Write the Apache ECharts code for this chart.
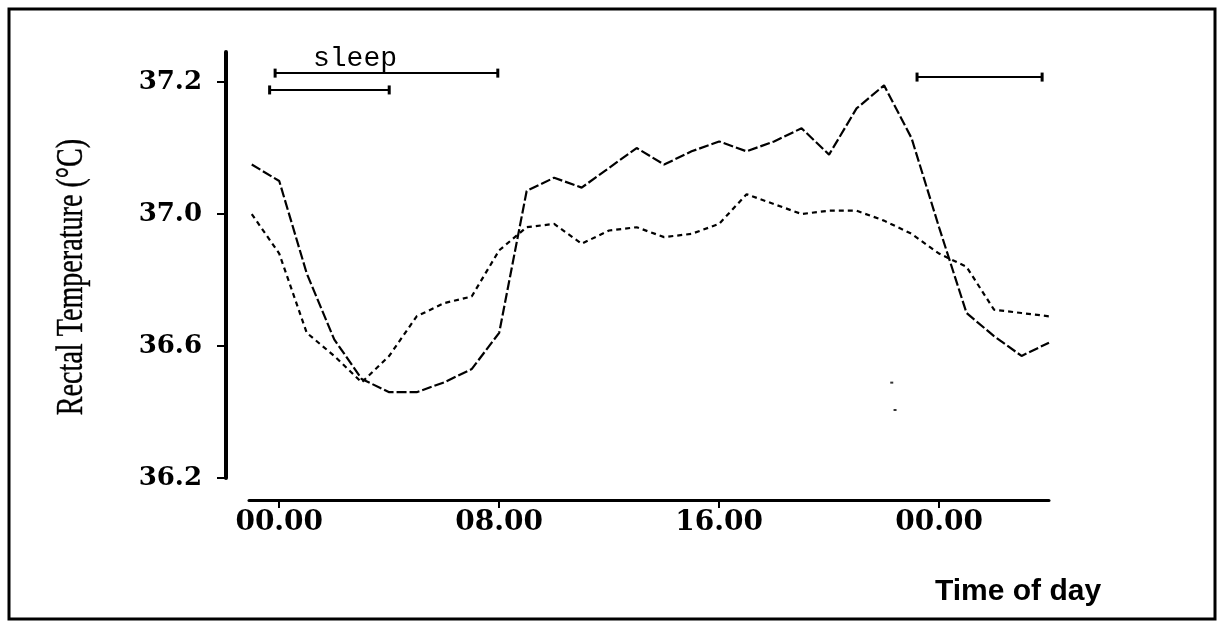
<!DOCTYPE html>
<html>
<head>
<meta charset="utf-8">
<script src="https://cdn.jsdelivr.net/npm/echarts@6/dist/echarts.min.js"></script>
<style>
html,body{margin:0;padding:0;background:#fff;}
#chart{width:1224px;height:628px;}
</style>
</head>
<body>
<div id="chart"></div>
<script>
// Time of day, hours from midnight (-1 = 23:00 previous day)
var hours = [-1,0,1,2,3,4,5,6,7,8,9,10,11,12,13,14,15,16,17,18,19,20,21,22,23,24,25,26,27,28];
// Upper (daytime) curve, long dashes
var tempA = [37.15,37.10,36.82,36.62,36.50,36.46,36.46,36.49,36.53,36.64,37.07,37.11,37.08,37.14,37.20,37.15,37.19,37.22,37.19,37.22,37.26,37.18,37.32,37.39,37.23,36.96,36.70,36.63,36.57,36.61];
// Lower (daytime) curve, short dashes
var tempB = [37.00,36.88,36.64,36.57,36.49,36.57,36.69,36.73,36.75,36.89,36.96,36.97,36.91,36.95,36.96,36.93,36.94,36.97,37.06,37.03,37.00,37.01,37.01,36.98,36.94,36.88,36.84,36.71,36.70,36.69];
// Axis ticks
var xTickValues = [0, 8, 16, 24];
var xTickLabels = ['00.00', '08.00', '16.00', '00.00'];
var yTickValues = [36.2, 36.6, 37.0, 37.4];
var yTickLabels = ['36.2', '36.6', '37.0', '37.2'];
// Sleep period bars [start hour, end hour, level]
var sleepUpper = [[-0.15, 37.427], [7.95, 37.427]];
var sleepLower = [[-0.35, 37.376], [4.0, 37.376]];
var sleepRight = [[23.2, 37.415], [27.75, 37.415]];
// Stray marks in the figure
var strayMarks = [[22.28, 36.489], [22.40, 36.406]];

function pairs(xs, ys) { return xs.map(function (x, i) { return [x, ys[i]]; }); }

var chart = echarts.init(document.getElementById('chart'), null, {renderer: 'canvas'});

var barStyle = {
  type: 'line', silent: true, symbol: 'rect', symbolSize: [3, 9],
  lineStyle: {color: '#000', width: 2}, itemStyle: {color: '#000'},
  animation: false, z: 3
};

chart.setOption({
  backgroundColor: '#fff',
  animation: false,
  grid: {left: 249, right: 175, top: 52, bottom: 150, containLabel: false},
  xAxis: {
    type: 'value', min: -1.1, max: 28, offset: 22,
    axisLine: {show: true, onZero: false, lineStyle: {color: '#000', width: 3}},
    axisTick: {show: true, customValues: xTickValues, length: 8, lineStyle: {color: '#000', width: 2}},
    axisLabel: {
      customValues: xTickValues, margin: 9,
      formatter: function (v) { var i = xTickValues.indexOf(v); return i >= 0 ? xTickLabels[i] : ''; },
      color: '#000', fontFamily: 'DejaVu Serif', fontWeight: 'bold', fontSize: 28
    },
    splitLine: {show: false}
  },
  yAxis: {
    type: 'value', min: 36.2, max: 37.491, offset: 23,
    axisLine: {show: true, onZero: false, lineStyle: {color: '#000', width: 4}},
    axisTick: {show: true, customValues: yTickValues, length: 9, lineStyle: {color: '#000', width: 2}},
    axisLabel: {
      customValues: yTickValues, margin: 24,
      formatter: function (v) {
        for (var i = 0; i < yTickValues.length; i++) { if (Math.abs(yTickValues[i] - v) < 1e-6) return yTickLabels[i]; }
        return '';
      },
      color: '#000', fontFamily: 'DejaVu Serif', fontWeight: 'bold', fontSize: 26
    },
    splitLine: {show: false}
  },
  graphic: [
    {type: 'rect', shape: {x: 9, y: 9, width: 1206, height: 610}, style: {fill: 'none', stroke: '#000', lineWidth: 3}, silent: true},
    {type: 'text', x: 72, y: 277, rotation: Math.PI / 2, scaleX: 0.74, scaleY: 1,
     style: {text: 'Rectal Temperature (°C)', fontFamily: 'Liberation Serif', fontSize: 38, fill: '#000', stroke: '#000', lineWidth: 0.4, align: 'center', verticalAlign: 'middle'}},
    {type: 'text', x: 355, y: 59,
     style: {text: 'sleep', fontFamily: 'Liberation Mono', fontSize: 28, fill: '#000', align: 'center', verticalAlign: 'middle'}},
    {type: 'text', x: 1018, y: 592,
     style: {text: 'Time of day', fontFamily: 'Liberation Sans', fontWeight: 'bold', fontSize: 30, fill: '#000', align: 'center', verticalAlign: 'middle'}}
  ],
  series: [
    {type: 'line', data: pairs(hours, tempA), showSymbol: false, symbol: 'none',
     lineStyle: {color: '#000', width: 2.2, type: [10, 3]}, z: 2},
    {type: 'line', data: pairs(hours, tempB), showSymbol: false, symbol: 'none',
     lineStyle: {color: '#000', width: 2.2, type: [5, 4]}, z: 2},
    Object.assign({data: sleepUpper}, barStyle),
    Object.assign({data: sleepLower}, barStyle),
    Object.assign({data: sleepRight}, barStyle),
    {type: 'scatter', data: strayMarks, symbol: 'rect', symbolSize: [3, 2], itemStyle: {color: '#000'}, silent: true}
  ]
});
</script>
</body>
</html>
